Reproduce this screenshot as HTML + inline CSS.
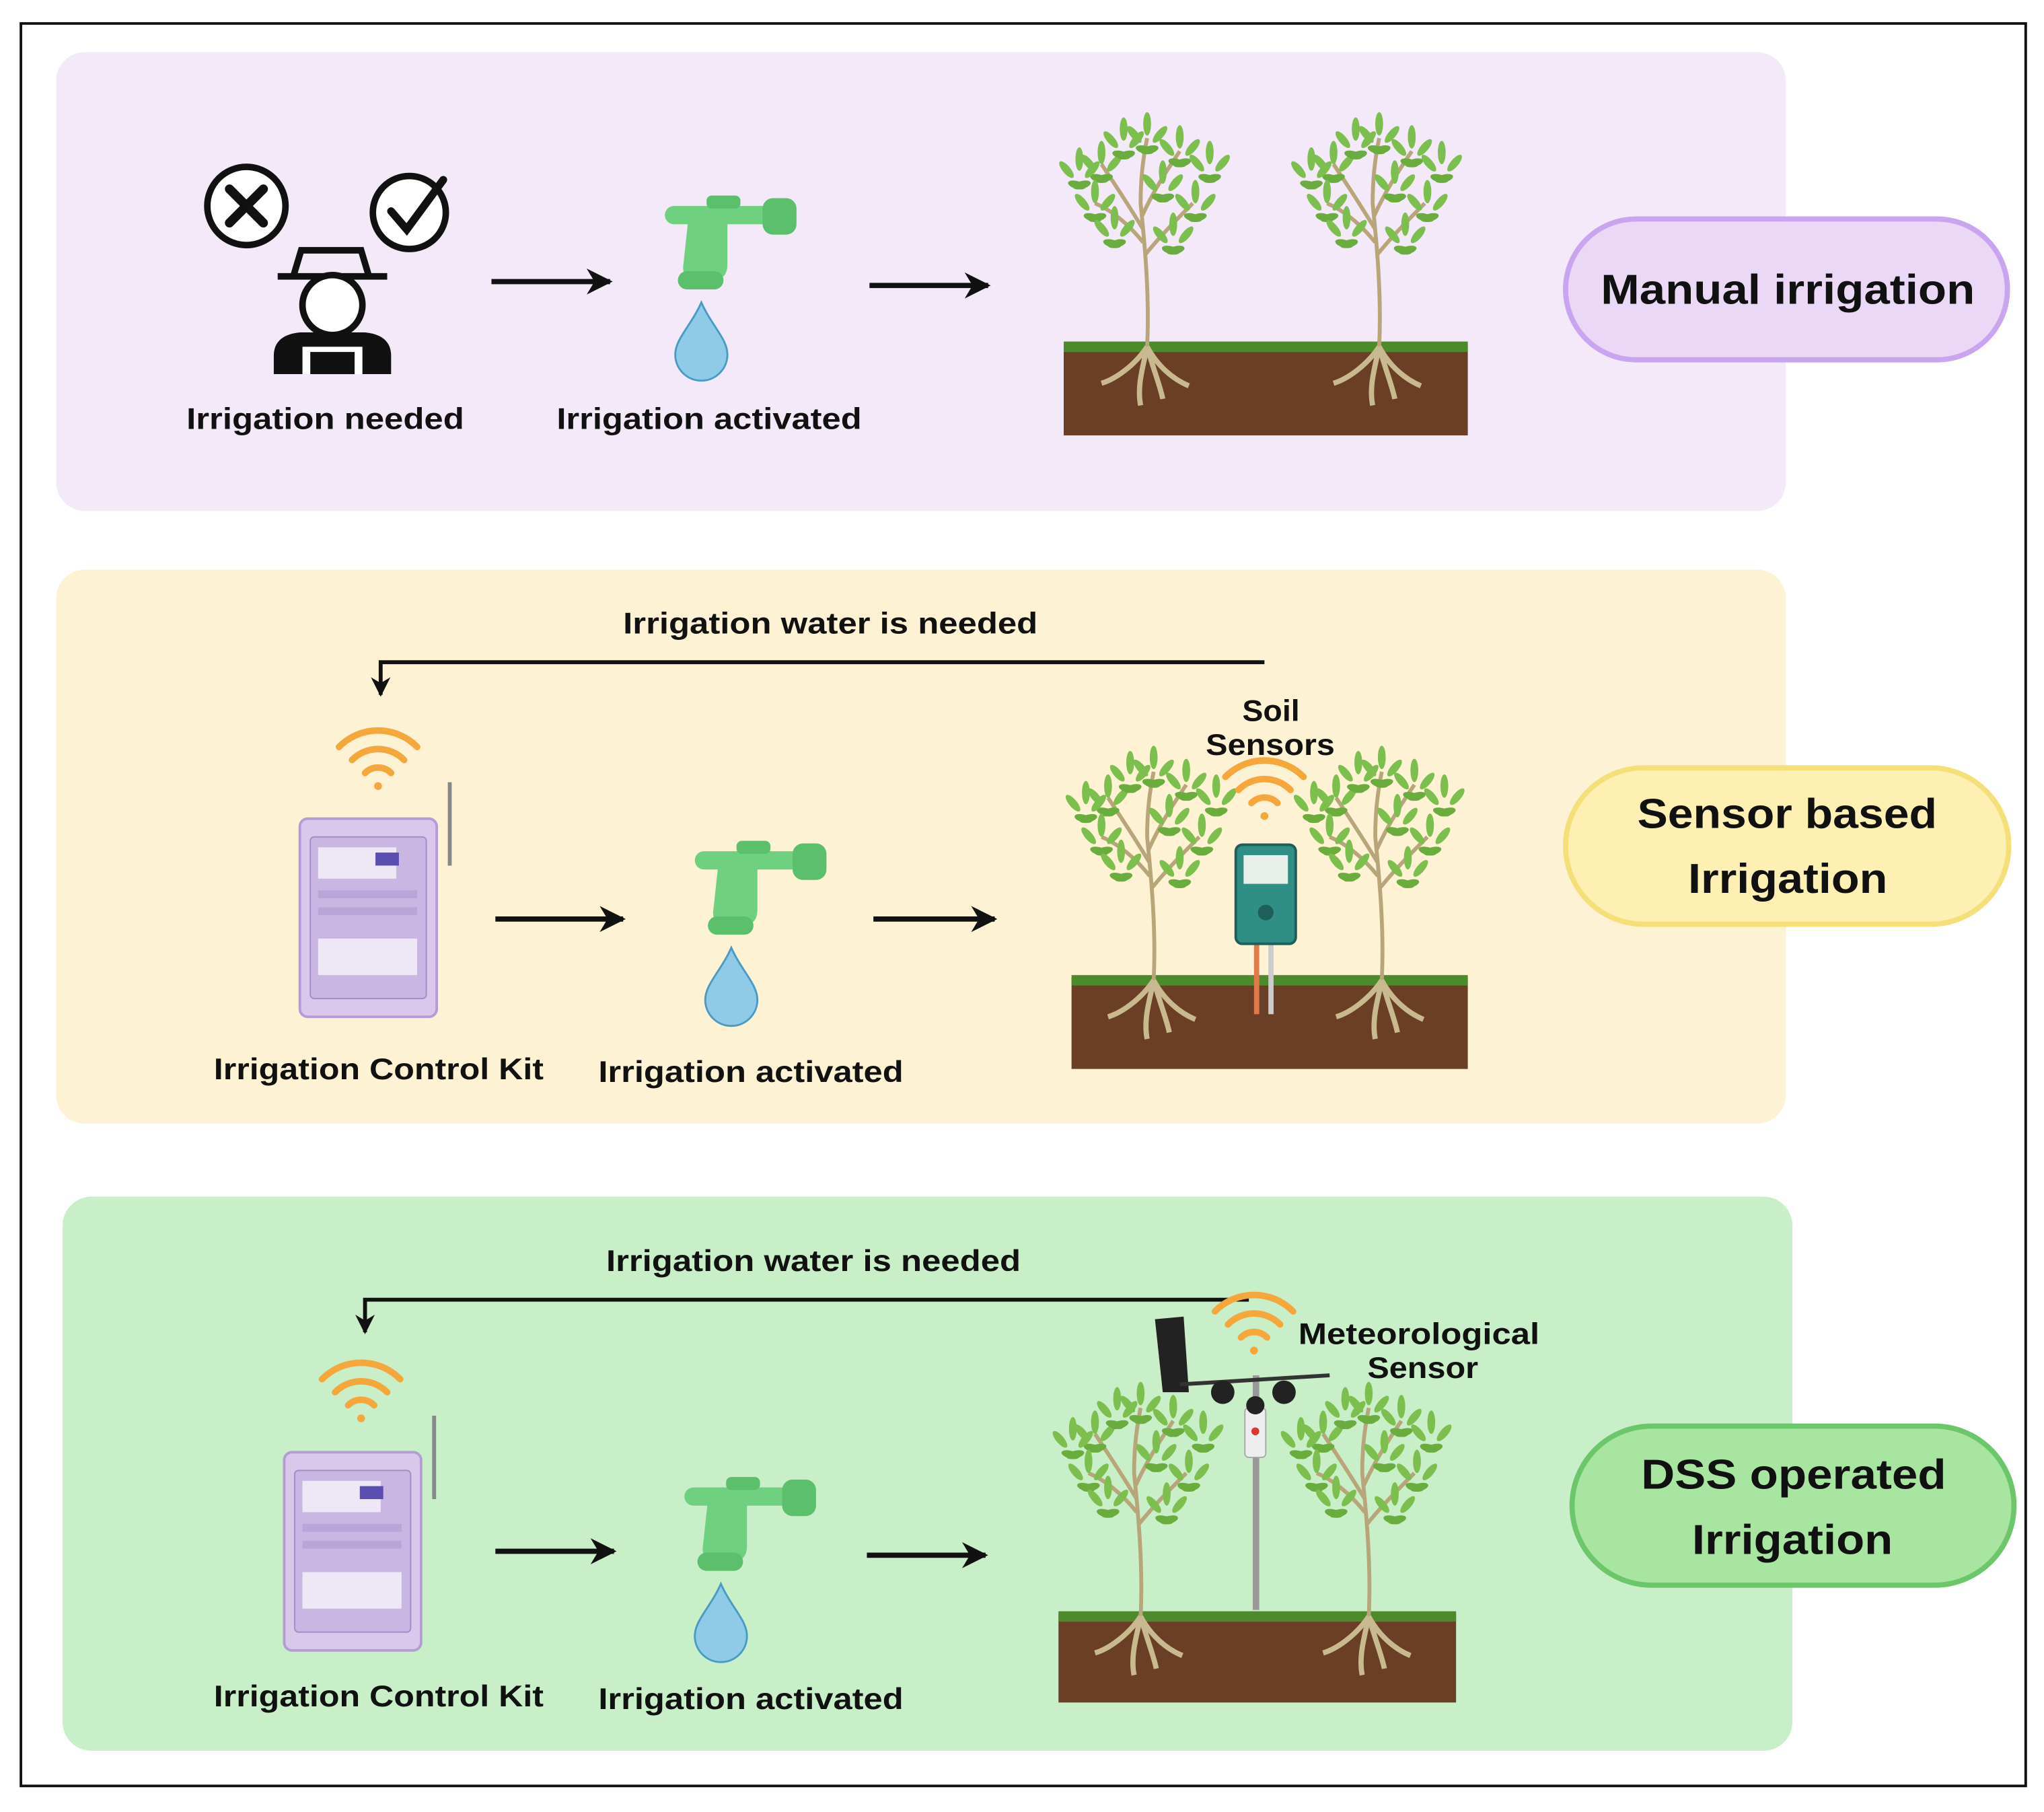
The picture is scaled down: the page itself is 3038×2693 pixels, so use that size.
<!DOCTYPE html>
<html><head><meta charset="utf-8"><style>
html,body{margin:0;padding:0;background:#fff;}
svg{display:block;}
text{font-family:"Liberation Sans",sans-serif;font-weight:bold;fill:#111;}
</style></head><body>
<svg width="3038" height="2693" viewBox="0 0 1568 1390" xmlns="http://www.w3.org/2000/svg">
<defs>
<marker id="ah" viewBox="0 0 10 10" refX="9" refY="5" markerWidth="5" markerHeight="5" orient="auto-start-reverse">
<path d="M0,0 L10,5 L0,10 L3,5 z" fill="#111"/></marker>
<g id="leaf">
<ellipse cx="0" cy="-9" rx="3" ry="9" fill="#7dbf4e"/>
<ellipse cx="7" cy="-7" rx="3" ry="8" fill="#7dbf4e" transform="rotate(40)"/>
<ellipse cx="-7" cy="-7" rx="3" ry="8" fill="#7dbf4e" transform="rotate(-40)"/>
<ellipse cx="11" cy="1" rx="3" ry="7" fill="#6aad3e" transform="rotate(75)"/>
<ellipse cx="-11" cy="1" rx="3" ry="7" fill="#6aad3e" transform="rotate(-75)"/>
</g>
<g id="plant">
<path d="M0,0 C2,-40 -2,-80 -5,-110 M-3,-90 C-15,-110 -25,-125 -35,-140 M-4,-100 C5,-120 15,-135 25,-150 M-5,-110 C-5,-130 -3,-145 0,-160 M-2,-70 C10,-85 25,-100 35,-110 M-3,-80 C-15,-95 -28,-105 -40,-110" stroke="#b8a57a" stroke-width="3" fill="none"/>
<use href="#leaf" x="-35" y="-140"/><use href="#leaf" x="25" y="-152"/><use href="#leaf" x="0" y="-162"/>
<use href="#leaf" x="-40" y="-110"/><use href="#leaf" x="37" y="-110"/><use href="#leaf" x="-18" y="-158"/>
<use href="#leaf" x="12" y="-125"/><use href="#leaf" x="-52" y="-135"/><use href="#leaf" x="48" y="-140"/>
<use href="#leaf" x="-25" y="-90"/><use href="#leaf" x="20" y="-85"/>
<path d="M0,0 C-10,15 -25,25 -35,28 M0,0 C8,15 20,25 32,30 M0,0 C-3,15 -8,30 -5,45 M0,0 C5,18 10,30 12,40" stroke="#c9b98f" stroke-width="4" fill="none"/>
</g>
<g id="faucet">
<rect x="0" y="8" width="100" height="14" rx="7" fill="#6fd07f"/>
<rect x="32" y="0" width="26" height="10" rx="4" fill="#5cbf6c"/>
<rect x="75" y="2" width="26" height="28" rx="8" fill="#5cbf6c"/>
<path d="M18,18 h30 v35 q0,12 -12,12 h-12 q-10,0 -10,-10 z" fill="#6fd07f"/>
<rect x="10" y="58" width="35" height="14" rx="7" fill="#5cbf6c"/>
<path d="M28,82 C20,100 8,110 8,122 a20,20 0 0 0 40,0 C48,110 36,100 28,82 z" fill="#8fcbe6" stroke="#4a9bc4" stroke-width="1.5"/>
</g>
<g id="wifi" fill="none" stroke="#f5a73b" stroke-width="5" stroke-linecap="round">
<path d="M-30,-22 a42,42 0 0 1 60,0"/><path d="M-20,-12 a28,28 0 0 1 40,0"/><path d="M-10,-2 a14,14 0 0 1 20,0"/>
<circle cx="0" cy="8" r="3" fill="#f5a73b" stroke="none"/>
</g>
<g id="kit">
<rect x="0" y="0" width="105" height="152" rx="6" fill="#d9c8ec" stroke="#b39dd3" stroke-width="2"/>
<rect x="8" y="14" width="89" height="124" rx="3" fill="#c9b6e2" stroke="#a48cc8"/>
<rect x="14" y="22" width="60" height="24" fill="#eee8f6"/><rect x="58" y="26" width="18" height="10" fill="#5a4fb0"/>
<rect x="14" y="55" width="76" height="6" fill="#b8a6d8"/><rect x="14" y="68" width="76" height="6" fill="#b8a6d8"/>
<rect x="14" y="92" width="76" height="28" fill="#eee8f6"/>
<line x1="115" y1="-28" x2="115" y2="36" stroke="#888" stroke-width="3"/>
</g>
</defs>

<rect x="16" y="18" width="1538" height="1352" fill="#fff" stroke="#111" stroke-width="2"/>
<rect x="43" y="40" width="1327" height="352" rx="22" fill="#f3e9f8"/>
<rect x="43" y="437" width="1327" height="425" rx="22" fill="#fdf3d4"/>
<rect x="48" y="918" width="1327" height="425" rx="22" fill="#c9efc9"/>

<!-- Pills -->
<rect x="1201" y="168" width="339" height="108" rx="54" fill="#ead8f6" stroke="#caa5ef" stroke-width="4"/>
<text x="1228" y="233" font-size="32" textLength="287" lengthAdjust="spacingAndGlyphs">Manual irrigation</text>
<rect x="1201" y="589" width="340" height="120" rx="60" fill="#fdf0b2" stroke="#f4df78" stroke-width="4"/>
<text x="1256" y="635" font-size="32" textLength="230" lengthAdjust="spacingAndGlyphs">Sensor based</text>
<text x="1295" y="685" font-size="32" textLength="153" lengthAdjust="spacingAndGlyphs">Irrigation</text>
<rect x="1206" y="1094" width="339" height="122" rx="61" fill="#a8e5a0" stroke="#6cc66a" stroke-width="4"/>
<text x="1259" y="1142" font-size="32" textLength="234" lengthAdjust="spacingAndGlyphs">DSS operated</text>
<text x="1298" y="1192" font-size="32" textLength="154" lengthAdjust="spacingAndGlyphs">Irrigation</text>

<!-- Panel 1 -->
<circle cx="189" cy="158" r="30" fill="#fff" stroke="#111" stroke-width="5"/>
<path d="M176,145 L202,171 M202,145 L176,171" stroke="#111" stroke-width="7" stroke-linecap="round"/>
<circle cx="314" cy="163" r="28" fill="#fff" stroke="#111" stroke-width="5"/>
<path d="M300,162 L312,176 L340,138" stroke="#111" stroke-width="6" fill="none" stroke-linecap="round"/>
<path d="M213,212 h84 M225,212 l6,-20 h46 l6,20" stroke="#111" stroke-width="5" fill="none"/>
<circle cx="255" cy="234" r="23" fill="#fff" stroke="#111" stroke-width="5"/>
<path d="M210,287 v-14 q0,-16 20,-18 h50 q20,2 20,18 v14 z" fill="#111"/>
<rect x="232" y="266" width="46" height="21" fill="#fff"/>
<rect x="238" y="270" width="34" height="17" fill="#111"/>
<text x="143" y="329" font-size="23" textLength="213" lengthAdjust="spacingAndGlyphs">Irrigation needed</text>
<line x1="377" y1="216" x2="468" y2="216" stroke="#111" stroke-width="4" marker-end="url(#ah)"/>
<use href="#faucet" x="510" y="150"/>
<text x="427" y="329" font-size="23" textLength="234" lengthAdjust="spacingAndGlyphs">Irrigation activated</text>
<line x1="667" y1="219" x2="758" y2="219" stroke="#111" stroke-width="4" marker-end="url(#ah)"/>
<rect x="816" y="264" width="310" height="70" fill="#6b3f26"/>
<rect x="816" y="262" width="310" height="8" fill="#4d8a2c"/>
<use href="#plant" x="880" y="266"/><use href="#plant" x="1058" y="266"/>

<!-- Panel 2 -->
<text x="478" y="486" font-size="23" textLength="318" lengthAdjust="spacingAndGlyphs">Irrigation water is needed</text>
<polyline points="970,508 292,508 292,533" fill="none" stroke="#111" stroke-width="3" marker-end="url(#ah)"/>
<use href="#wifi" x="290" y="595"/>
<use href="#kit" x="230" y="628"/>
<text x="164" y="828" font-size="23" textLength="253" lengthAdjust="spacingAndGlyphs">Irrigation Control Kit</text>
<line x1="380" y1="705" x2="478" y2="705" stroke="#111" stroke-width="4" marker-end="url(#ah)"/>
<use href="#faucet" x="533" y="645"/>
<text x="459" y="830" font-size="23" textLength="234" lengthAdjust="spacingAndGlyphs">Irrigation activated</text>
<line x1="670" y1="705" x2="763" y2="705" stroke="#111" stroke-width="4" marker-end="url(#ah)"/>
<rect x="822" y="750" width="304" height="70" fill="#6b3f26"/>
<rect x="822" y="748" width="304" height="8" fill="#4d8a2c"/>
<use href="#plant" x="885" y="752"/><use href="#plant" x="1060" y="752"/>
<rect x="962" y="720" width="4" height="58" fill="#e07a4a"/><rect x="973" y="720" width="4" height="58" fill="#ccc"/>
<rect x="948" y="648" width="46" height="76" rx="5" fill="#2f8f86" stroke="#1f5f5a" stroke-width="2"/>
<rect x="954" y="656" width="34" height="22" fill="#e8efe8"/>
<circle cx="971" cy="700" r="6" fill="#1f5f5a"/>
<use href="#wifi" x="970" y="618"/>
<text x="953" y="553" font-size="23" textLength="44" lengthAdjust="spacingAndGlyphs">Soil</text>
<text x="925" y="579" font-size="23" textLength="99" lengthAdjust="spacingAndGlyphs">Sensors</text>

<!-- Panel 3 -->
<text x="465" y="975" font-size="23" textLength="318" lengthAdjust="spacingAndGlyphs">Irrigation water is needed</text>
<polyline points="958,997 280,997 280,1022" fill="none" stroke="#111" stroke-width="3" marker-end="url(#ah)"/>
<use href="#wifi" x="277" y="1080"/>
<use href="#kit" x="218" y="1114"/>
<text x="164" y="1309" font-size="23" textLength="253" lengthAdjust="spacingAndGlyphs">Irrigation Control Kit</text>
<line x1="380" y1="1190" x2="471" y2="1190" stroke="#111" stroke-width="4" marker-end="url(#ah)"/>
<use href="#faucet" x="525" y="1133"/>
<text x="459" y="1311" font-size="23" textLength="234" lengthAdjust="spacingAndGlyphs">Irrigation activated</text>
<line x1="665" y1="1193" x2="756" y2="1193" stroke="#111" stroke-width="4" marker-end="url(#ah)"/>
<rect x="812" y="1238" width="305" height="68" fill="#6b3f26"/>
<rect x="812" y="1236" width="305" height="8" fill="#4d8a2c"/>
<use href="#plant" x="875" y="1240"/><use href="#plant" x="1050" y="1240"/>
<rect x="961" y="1055" width="5" height="180" fill="#999"/>
<rect x="955" y="1080" width="16" height="38" rx="3" fill="#eee" stroke="#aaa"/>
<circle cx="963" cy="1098" r="3" fill="#d33"/>
<path d="M886,1012 L908,1010 L912,1068 L892,1068 z" fill="#222"/>
<line x1="905" y1="1062" x2="1020" y2="1055" stroke="#333" stroke-width="3"/>
<circle cx="938" cy="1068" r="9" fill="#222"/><circle cx="985" cy="1068" r="9" fill="#222"/><circle cx="963" cy="1078" r="7" fill="#222"/>
<use href="#wifi" x="962" y="1028"/>
<text x="996" y="1031" font-size="23" textLength="185" lengthAdjust="spacingAndGlyphs">Meteorological</text>
<text x="1049" y="1057" font-size="23" textLength="85" lengthAdjust="spacingAndGlyphs">Sensor</text>
</svg>
</body></html>
